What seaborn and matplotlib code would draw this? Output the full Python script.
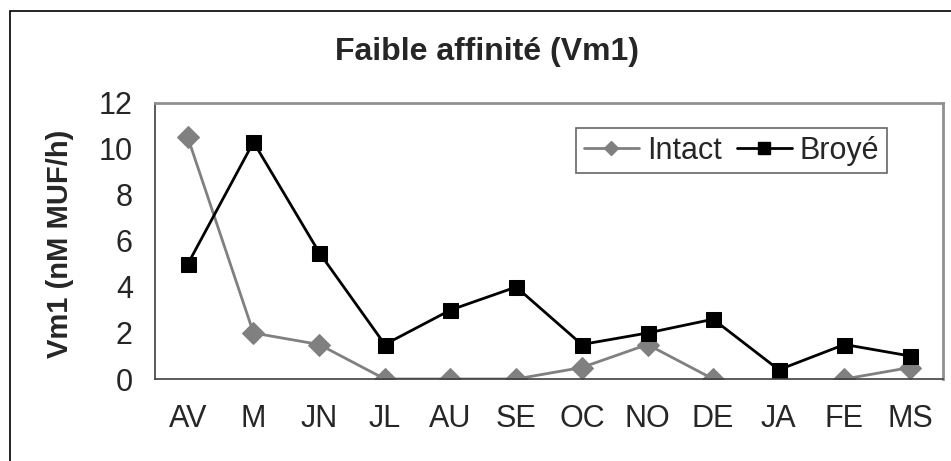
import numpy as np
import pandas as pd
import seaborn as sns
import matplotlib.pyplot as plt
from matplotlib.patches import Rectangle
from matplotlib.lines import Line2D

months = ['AV', 'M', 'JN', 'JL', 'AU', 'SE', 'OC', 'NO', 'DE', 'JA', 'FE', 'MS']
intact = [10.5, 2, 1.5, 0, 0, 0, 0.5, 1.5, 0, np.nan, 0, 0.5]
broye = [5, 10.3, 5.5, 1.5, 3, 4, 1.5, 2, 2.6, 0.4, 1.5, 1]

sns.set_style('white')
plt.rcParams['font.family'] = ['Liberation Sans', 'DejaVu Sans']

pos = np.arange(len(months))
df_i = pd.DataFrame({'x': pos, 'v': intact})
# line breaks where a value is missing
df_i['seg'] = df_i['v'].isna().cumsum()
df_i = df_i.dropna()
df_b = pd.DataFrame({'x': pos, 'v': broye})

fig = plt.figure(figsize=(9.51, 4.61), dpi=100)
ax = fig.add_axes([155 / 951, 82 / 461, 788 / 951, 276 / 461])

sns.lineplot(data=df_i, x='x', y='v', units='seg', estimator=None, color='#808080',
             marker='D', markersize=11, markeredgecolor='#808080', linewidth=2, ax=ax)
sns.lineplot(data=df_b, x='x', y='v', color='black', marker='s', markersize=10.8,
             markeredgecolor='black', linewidth=2, ax=ax)

ax.set_xlim(-0.5, len(months) - 0.5)
ax.set_ylim(0, 12)
ax.set_yticks([0, 2, 4, 6, 8, 10, 12])
ax.set_xticks(pos)
ax.set_xticklabels(months)
ax.set_xticks(np.arange(-0.5, len(months), 1), minor=True)
ax.tick_params(axis='x', which='major', length=0, pad=18, labelsize=22)
ax.tick_params(axis='x', which='minor', length=7, width=1, color='#404040', direction='out')
ax.tick_params(axis='y', length=7, width=1, color='#404040', direction='out', pad=9, labelsize=22)
ax.set_xlabel('')
ax.set_ylabel('Vm1 (nM MUF/h)', fontsize=21, fontweight='bold')
ax.yaxis.label.set_va('center')
ax.yaxis.set_label_coords((60 - 155) / 788, 0.49)

fig.text(487 / 951, 1 - 52 / 461, 'Faible affinité (Vm1)', fontsize=23, fontweight='bold',
         ha='center', va='center')

for side in ['top', 'right']:
    ax.spines[side].set_color('#909090')
    ax.spines[side].set_linewidth(2)
for side in ['left', 'bottom']:
    ax.spines[side].set_color('#404040')
    ax.spines[side].set_linewidth(1.2)

handles = [Line2D([], [], color='#808080', marker='D', markersize=7, linewidth=2),
           Line2D([], [], color='black', marker='s', markersize=8.5, linewidth=2)]
leg = ax.legend(handles, ['Intact', 'Broyé'], loc='upper right',
                bbox_to_anchor=((887 - 155) / 788, (379 - 128) / 276),
                ncol=2, fontsize=22, frameon=True, fancybox=False, handlelength=1.8,
                handletextpad=0.26, columnspacing=0.5, borderpad=0.25, borderaxespad=0)
leg.get_frame().set_edgecolor('#404040')
leg.get_frame().set_linewidth(1.2)

fig.patches.append(Rectangle((10 / 951, -0.1), 1.1, 1 - 11 / 461 + 0.1, transform=fig.transFigure,
                             fill=False, edgecolor='black', linewidth=1.2))

fig.savefig('out.png', dpi=100)
